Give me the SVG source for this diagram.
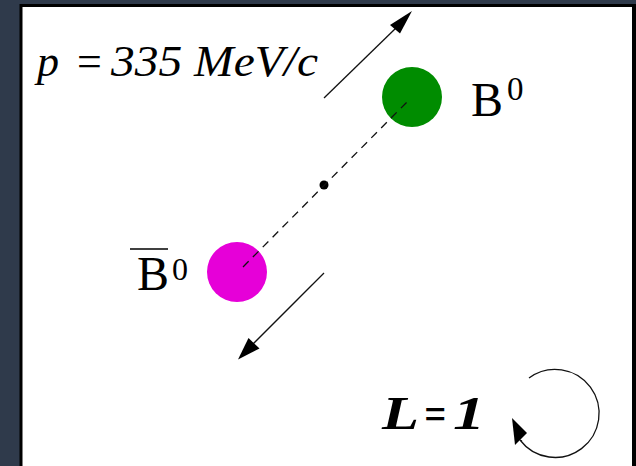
<svg xmlns="http://www.w3.org/2000/svg" width="636" height="466" viewBox="0 0 636 466">
<style>
text{font-family:'Liberation Serif','Times New Roman',Times,serif;fill:#000}
.it{font-style:italic}
.bi{font-style:italic;font-weight:bold}
.ln{stroke:#111;stroke-width:1.3;fill:none}
.head{fill:#000}
</style>
<rect x="0" y="0" width="636" height="466" fill="#2f3a4b"/>
<rect x="19.5" y="4" width="616.5" height="470" fill="#000"/>
<rect x="22.5" y="7" width="609.5" height="470" fill="#fff"/>

<g id="B0">
  <circle cx="412" cy="97" r="30" fill="#008c00"/>
  <text x="471" y="116" font-size="48">B</text>
  <text x="507" y="100" font-size="33">0</text>
</g>

<g id="center">
  <circle cx="324" cy="185" r="4.5" fill="#000"/>
</g>

<g id="B0bar">
  <circle cx="237" cy="272" r="30" fill="#e600d8"/>
  <text x="137" y="290" font-size="48">B</text>
  <line x1="130" y1="249" x2="168" y2="249" stroke="#000" stroke-width="1.5"/>
  <text x="172" y="280" font-size="32">0</text>
</g>

<g id="label-p">
  <text class="it" x="37" y="76" font-size="44">p</text>
  <text x="77" y="76" font-size="44">=</text>
  <text class="it" x="111" y="76" font-size="44" textLength="207" lengthAdjust="spacingAndGlyphs">335 MeV/c</text>
</g>

<g id="label-L">
  <text class="bi" x="382" y="429" font-size="46" textLength="37" lengthAdjust="spacingAndGlyphs">L</text>
  <text class="bi" x="424" y="429" font-size="46" textLength="22" lengthAdjust="spacingAndGlyphs">=</text>
  <text class="bi" x="453" y="429" font-size="46" textLength="32" lengthAdjust="spacingAndGlyphs">1</text>
</g>

<g id="connectors">
  <line class="ln" x1="243" y1="267" x2="407" y2="102" stroke-dasharray="8,6"/>
  <line class="ln" x1="324" y1="98" x2="397" y2="27"/>
  <polygon class="head" points="412,11 390,25 400,33.5"/>
  <line class="ln" x1="324" y1="273" x2="252" y2="345"/>
  <polygon class="head" points="238,359.5 248.5,338 259.5,348.5"/>
  <path class="ln" d="M529,378 A44,44 0 1 1 520,440 L522,441"/>
  <polygon class="head" points="512,418 515,445 527,433"/>
</g>
</svg>
